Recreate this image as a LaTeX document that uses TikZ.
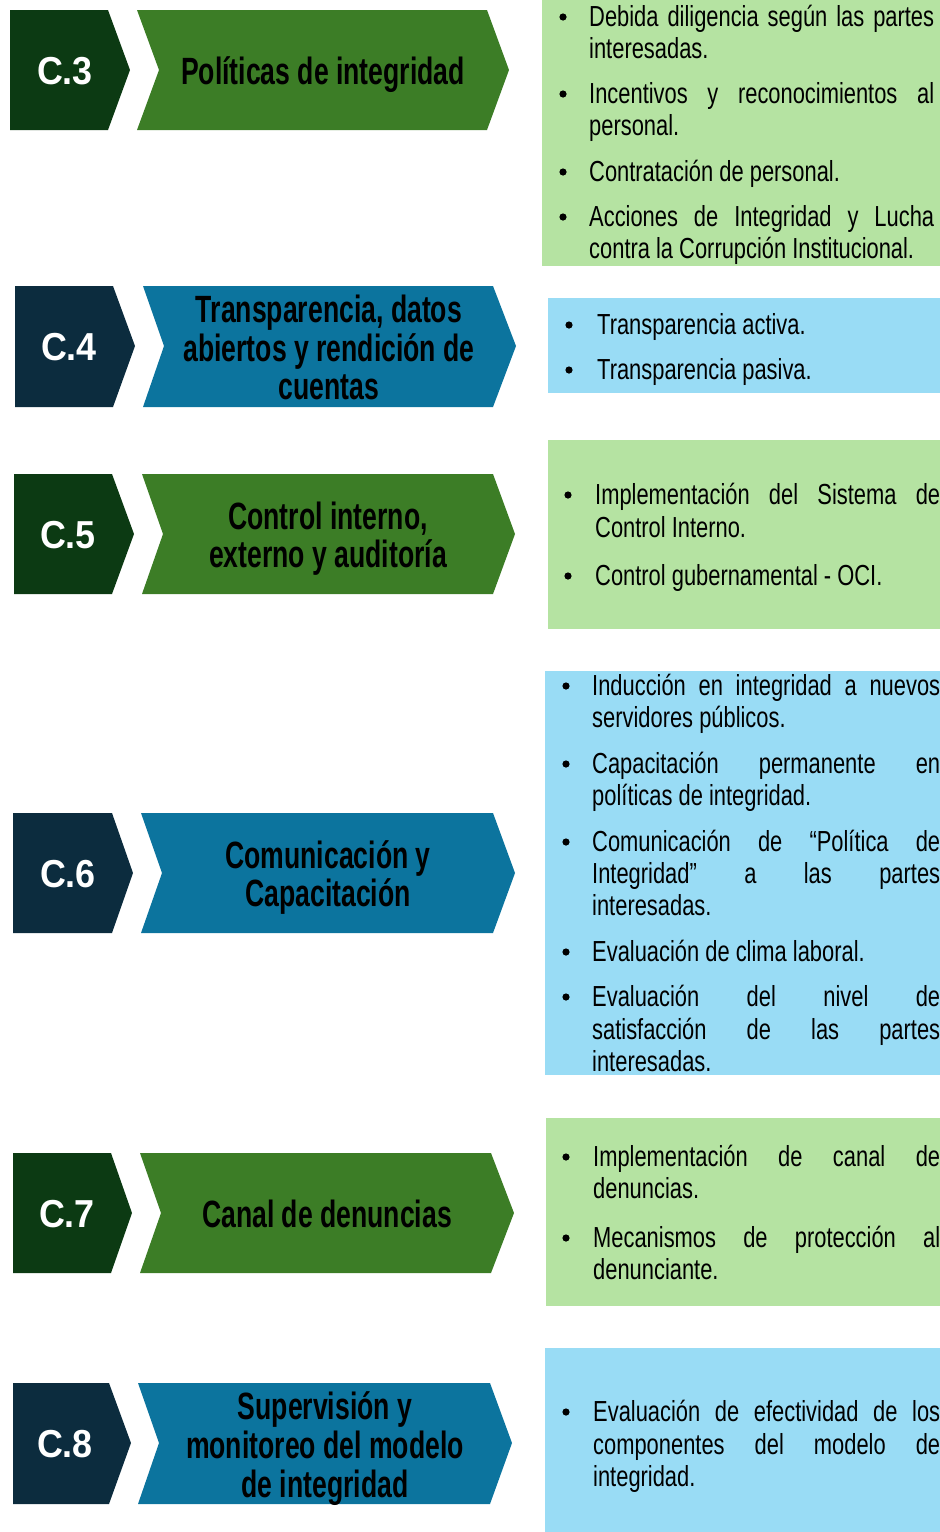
\documentclass[tikz,border=0pt]{standalone}
\usepackage{fontspec}
\setmainfont{Liberation Sans}[FakeStretch=0.755]
\newfontfamily\titfam{Liberation Sans}[FakeStretch=0.70]
\newfontfamily\labfam{Liberation Sans}[FakeStretch=0.92]
\newcommand\itemfont{\fontsize{29}{32}\selectfont}
\newcommand\titfont{\titfam\bfseries\fontsize{38}{39}\selectfont}
\newcommand\labfont{\labfam\bfseries\fontsize{39}{40}\selectfont}
\definecolor{dkgreen}{RGB}{12,58,19}
\definecolor{mdgreen}{RGB}{60,125,38}
\definecolor{navy}{RGB}{12,44,62}
\definecolor{mdblue}{RGB}{12,116,158}
\definecolor{ltgreen}{RGB}{181,227,162}
\definecolor{ltblue}{RGB}{153,220,245}
\tikzset{
  lab/.style={font=\labfont, text=white, inner sep=0, anchor=base},
  ctitle/.style={font=\titfont, text=black, inner sep=0, anchor=base},
  itm/.style={font=\itemfont, text=black, inner sep=0, anchor=base west},
  bul/.style={fill=black},
}
\newcommand\J[2]{\makebox[#1][s]{#2}}
\begin{document}
\begin{tikzpicture}[x=1pt,y=-1pt]
\useasboundingbox (0,0) rectangle (940,1532);
% ---------- right boxes ----------
\fill[ltgreen] (542,0) rectangle (940,266);
\fill[ltblue] (548,298) rectangle (940,393);
\fill[ltgreen] (548,440) rectangle (940,629);
\fill[ltblue] (545,671) rectangle (940,1075);
\fill[ltgreen] (546,1118) rectangle (940,1306);
\fill[ltblue] (545,1348) rectangle (940,1532);
% ---------- left chevrons ----------
% C.3
\fill[dkgreen] (10,10) -- (108,10) -- (130,70) -- (108,130) -- (10,130) -- cycle;
\fill[mdgreen] (137,10) -- (487,10) -- (509,70) -- (487,130) -- (137,130) -- (159,70) -- cycle;
% C.4
\fill[navy] (15,286) -- (113,286) -- (135,346) -- (113,407) -- (15,407) -- cycle;
\fill[mdblue] (143,286) -- (493,286) -- (516,346) -- (493,407) -- (143,407) -- (164,346) -- cycle;
% C.5
\fill[dkgreen] (14,474) -- (112,474) -- (134,534) -- (112,594) -- (14,594) -- cycle;
\fill[mdgreen] (142,474) -- (493,474) -- (515,534) -- (493,594) -- (142,594) -- (163,534) -- cycle;
% C.6
\fill[navy] (13,813) -- (112,813) -- (133,873) -- (112,933) -- (13,933) -- cycle;
\fill[mdblue] (141,813) -- (493,813) -- (515,873) -- (493,933) -- (141,933) -- (162,873) -- cycle;
% C.7
\fill[dkgreen] (13,1153) -- (111,1153) -- (132,1213) -- (111,1273) -- (13,1273) -- cycle;
\fill[mdgreen] (140,1153) -- (491,1153) -- (514,1213) -- (491,1273) -- (140,1273) -- (161,1213) -- cycle;
% C.8
\fill[navy] (13,1383) -- (109,1383) -- (131,1443) -- (109,1504) -- (13,1504) -- cycle;
\fill[mdblue] (138,1383) -- (490,1383) -- (512,1443) -- (490,1504) -- (138,1504) -- (159,1443) -- cycle;
% ---------- labels ----------
\node[lab] (l3) at (65,84) {C.3};
\node[lab] (l4) at (69,360) {C.4};
\node[lab] (l5) at (68,548) {C.5};
\node[lab] (l6) at (68,887) {C.6};
\node[lab] (l7) at (67,1227) {C.7};
\node[lab] (l8) at (65,1457) {C.8};
% ---------- titles ----------
\node[ctitle] (t3) at (323,84) {Políticas de integridad};
\node[ctitle] (t4a) at (329,322) {Transparencia, datos};
\node[ctitle] (t4b) at (329,361) {abiertos y rendición de};
\node[ctitle] (t4c) at (329,399) {cuentas};
\node[ctitle] (t5a) at (328,529) {Control interno,};
\node[ctitle] (t5b) at (328,567) {externo y auditoría};
\node[ctitle] (t6a) at (328,868) {Comunicación y};
\node[ctitle] (t6b) at (328,906) {Capacitación};
\node[ctitle] (t7) at (327,1227) {Canal de denuncias};
\node[ctitle] (t8a) at (325,1419) {Supervisión y};
\node[ctitle] (t8b) at (325,1458) {monitoreo del modelo};
\node[ctitle] (t8c) at (325,1497) {de integridad};
% ---------- box 1 ----------
\fill[bul] (563,17) circle (3.6);
\node[itm] (a1) at (589,26) {\J{345pt}{Debida diligencia según las partes}};
\node[itm] (a2) at (589,58) {interesadas.};
\fill[bul] (563,94) circle (3.6);
\node[itm] (a3) at (589,103) {\J{345pt}{Incentivos y reconocimientos al}};
\node[itm] (a4) at (589,135) {personal.};
\fill[bul] (563,172) circle (3.6);
\node[itm] (a5) at (589,181) {Contratación de personal.};
\fill[bul] (563,217) circle (3.6);
\node[itm] (a6) at (589,226) {\J{345pt}{Acciones de Integridad y Lucha}};
\node[itm] (a7) at (589,258) {contra la Corrupción Institucional.};
% ---------- box 2 ----------
\fill[bul] (569,325) circle (3.6);
\node[itm] (b1) at (597,334) {Transparencia activa.};
\fill[bul] (569,370) circle (3.6);
\node[itm] (b2) at (597,379) {Transparencia pasiva.};
% ---------- box 3 ----------
\fill[bul] (568,495) circle (3.6);
\node[itm] (c1) at (595,504) {\J{345pt}{Implementación del Sistema de}};
\node[itm] (c2) at (595,537) {Control Interno.};
\fill[bul] (568,576) circle (3.6);
\node[itm] (c3) at (595,585) {Control gubernamental - OCI.};
% ---------- box 4 ----------
\fill[bul] (566,686) circle (3.6);
\node[itm] (d1) at (592,695) {\J{348pt}{Inducción en integridad a nuevos}};
\node[itm] (d2) at (592,727) {servidores públicos.};
\fill[bul] (566,764) circle (3.6);
\node[itm] (d3) at (592,773) {\J{348pt}{Capacitación permanente en}};
\node[itm] (d4) at (592,805) {políticas de integridad.};
\fill[bul] (566,842) circle (3.6);
\node[itm] (d5) at (592,851) {\J{348pt}{Comunicación de “Política de}};
\node[itm] (d6) at (592,883) {\J{348pt}{Integridad” a las partes}};
\node[itm] (d7) at (592,915) {interesadas.};
\fill[bul] (566,952) circle (3.6);
\node[itm] (d8) at (592,961) {Evaluación de clima laboral.};
\fill[bul] (566,997) circle (3.6);
\node[itm] (d9) at (592,1006) {\J{348pt}{Evaluación del nivel de}};
\node[itm] (d10) at (592,1039) {\J{348pt}{satisfacción de las partes}};
\node[itm] (d11) at (592,1071) {interesadas.};
% ---------- box 5 ----------
\fill[bul] (566,1157) circle (3.6);
\node[itm] (e1) at (593,1166) {\J{347pt}{Implementación de canal de}};
\node[itm] (e2) at (593,1198) {denuncias.};
\fill[bul] (566,1238) circle (3.6);
\node[itm] (e3) at (593,1247) {\J{347pt}{Mecanismos de protección al}};
\node[itm] (e4) at (593,1279) {denunciante.};
% ---------- box 6 ----------
\fill[bul] (566,1412) circle (3.6);
\node[itm] (f1) at (593,1421) {\J{347pt}{Evaluación de efectividad de los}};
\node[itm] (f2) at (593,1454) {\J{347pt}{componentes del modelo de}};
\node[itm] (f3) at (593,1486) {integridad.};
\end{tikzpicture}
\end{document}
